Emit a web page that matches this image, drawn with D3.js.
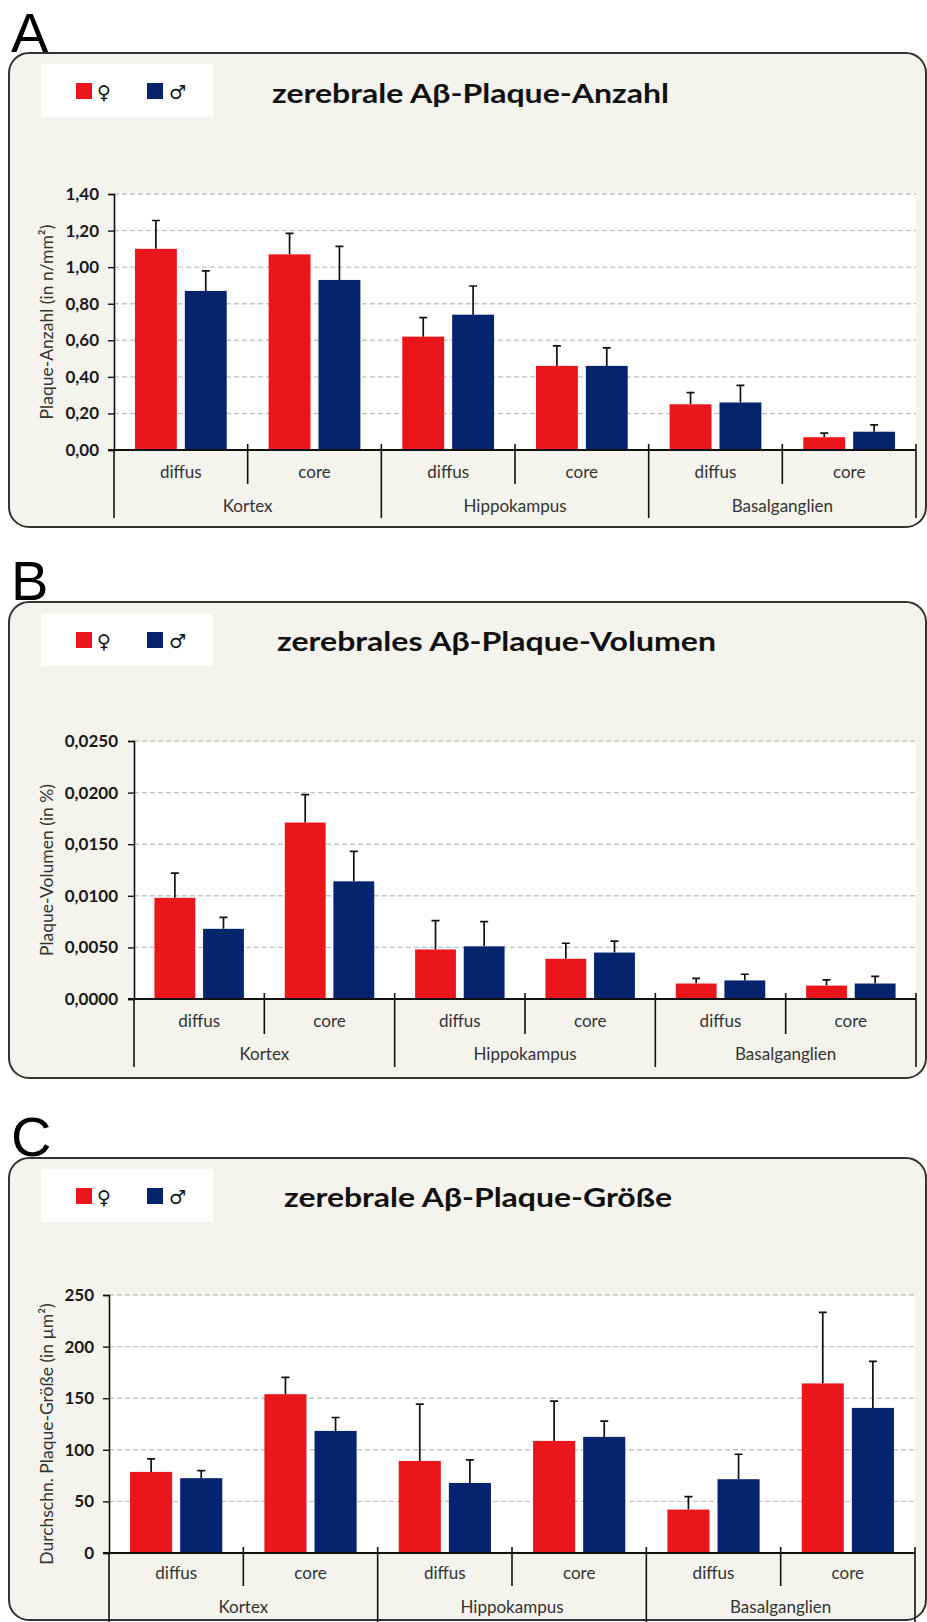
<!DOCTYPE html>
<html>
<head>
<meta charset="utf-8">
<script src="https://cdn.jsdelivr.net/npm/d3@7"></script>
<style>
  body { margin: 0; background: #fff; }
  svg { display: block; }
  text { font-family: Lato, "Open Sans", sans-serif; }
</style>
</head>
<body>
<svg id="fig" width="927" height="1622"></svg>
<script>
// categories
const regions = ['Kortex', 'Hippokampus', 'Basalganglien'];
const types = ['diffus', 'core'];
const sexes = ['♀', '♂'];
const sexColors = ['#EA161B', '#05246E'];

// A: Plaque-Anzahl (n/mm²), mean + SEM, order: K diffus, K core, H diffus, H core, B diffus, B core
const anzahlF = [1.10, 1.07, 0.62, 0.46, 0.25, 0.07];
const anzahlFErr = [0.155, 0.115, 0.104, 0.109, 0.064, 0.022];
const anzahlM = [0.87, 0.93, 0.74, 0.46, 0.26, 0.10];
const anzahlMErr = [0.11, 0.184, 0.157, 0.098, 0.093, 0.037];
const anzahlTicks = [0, 0.2, 0.4, 0.6, 0.8, 1.0, 1.2, 1.4];

// B: Plaque-Volumen (%)
const volumenF = [0.0098, 0.0171, 0.0048, 0.0039, 0.0015, 0.0013];
const volumenFErr = [0.0024, 0.0027, 0.0028, 0.0015, 0.0005, 0.00055];
const volumenM = [0.0068, 0.0114, 0.0051, 0.0045, 0.0018, 0.0015];
const volumenMErr = [0.0011, 0.0029, 0.0024, 0.0011, 0.0006, 0.0007];
const volumenTicks = [0, 0.005, 0.01, 0.015, 0.02, 0.025];

// C: Plaque-Größe (µm²)
const groesseF = [78.6, 153.9, 89.2, 108.6, 42.1, 164.3];
const groesseFErr = [12.6, 16.2, 55, 38.5, 12.6, 68.9];
const groesseM = [72.5, 118.3, 67.9, 112.5, 71.5, 140.6];
const groesseMErr = [7.4, 13, 22.3, 15.2, 24.2, 45];
const groesseTicks = [0, 50, 100, 150, 200, 250];

const de = d3.formatLocale({decimal: ',', thousands: '.', grouping: [3], currency: ['', '€']});

const panels = [
  {letter: 'A', letterY: 52, box: [9, 53, 926, 527], legend: [41, 64], title: 'zerebrale Aβ-Plaque-Anzahl', titleX: 272, titleY: 103, titleW: 397,
   x0: 114, x1: 916, yTop: 194, yBot: 450, max: 1.4, ticks: anzahlTicks, fmt: de.format('.2f'), tickX: 99,
   yTitle: 'Plaque-Anzahl (in n/mm²)', subY: 478, mainY: 512, shortEnd: 484, longEnd: 518,
   f: anzahlF, fe: anzahlFErr, m: anzahlM, me: anzahlMErr},
  {letter: 'B', letterY: 600, box: [9, 602, 926, 1078], legend: [41, 613], title: 'zerebrales Aβ-Plaque-Volumen', titleX: 277, titleY: 651, titleW: 439,
   x0: 134, x1: 916, yTop: 741, yBot: 999, max: 0.025, ticks: volumenTicks, fmt: de.format('.4f'), tickX: 118,
   yTitle: 'Plaque-Volumen (in %)', subY: 1027, mainY: 1060, shortEnd: 1034, longEnd: 1067,
   f: volumenF, fe: volumenFErr, m: volumenM, me: volumenMErr},
  {letter: 'C', letterY: 1156, box: [9, 1158, 926, 1620], legend: [41, 1169], title: 'zerebrale Aβ-Plaque-Größe', titleX: 284, titleY: 1207, titleW: 388,
   x0: 109, x1: 915, yTop: 1295, yBot: 1553, max: 250, ticks: groesseTicks, fmt: de.format('.0f'), tickX: 94,
   yTitle: 'Durchschn. Plaque-Größe (in µm²)', subY: 1579, mainY: 1613, shortEnd: 1586, longEnd: 1622,
   f: groesseF, fe: groesseFErr, m: groesseM, me: groesseMErr}
];

const svg = d3.select('#fig');

panels.forEach(function(p) {
  const g = svg.append('g');

  // panel letter
  g.append('text')
    .attr('x', 11).attr('y', p.letterY)
    .style('font-family', '"Liberation Sans", Arial, sans-serif')
    .style('font-size', '56px')
    .attr('fill', '#000')
    .text(p.letter);

  // rounded box
  g.append('rect')
    .attr('x', p.box[0]).attr('y', p.box[1])
    .attr('width', p.box[2] - p.box[0]).attr('height', p.box[3] - p.box[1])
    .attr('rx', 20).attr('ry', 20)
    .attr('fill', '#F4F3EE')
    .attr('stroke', '#333').attr('stroke-width', 2);

  // legend
  const lg = g.append('g').attr('transform', 'translate(' + p.legend[0] + ',' + p.legend[1] + ')');
  lg.append('rect').attr('width', 172).attr('height', 53).attr('fill', '#fff');
  sexes.forEach(function(s, i) {
    lg.append('rect').attr('x', 35 + i * 71).attr('y', 19).attr('width', 16).attr('height', 16).attr('fill', sexColors[i]);
    lg.append('text').attr('x', 56 + i * 72).attr('y', 35)
      .style('font-family', '"DejaVu Sans", sans-serif').style('font-size', '19px')
      .attr('fill', '#111').text(s);
  });

  // title
  g.append('text')
    .attr('x', p.titleX).attr('y', p.titleY)
    .attr('textLength', p.titleW).attr('lengthAdjust', 'spacingAndGlyphs')
    .style('font-size', '26px').style('font-weight', 'bold')
    .attr('fill', '#111')
    .text(p.title);

  // scales
  const keys = [];
  regions.forEach(r => types.forEach(t => keys.push(r + '|' + t)));
  const x0 = d3.scaleBand().domain(keys).range([p.x0, p.x1]);
  const x1 = d3.scaleBand().domain(sexes).range([0, x0.bandwidth()]).paddingInner(0.16).paddingOuter(0.42);
  const y = d3.scaleLinear().domain([0, p.max]).range([p.yBot, p.yTop]);

  // white plot area
  g.append('rect')
    .attr('x', p.x0).attr('y', p.yTop)
    .attr('width', p.x1 - p.x0).attr('height', p.yBot - p.yTop)
    .attr('fill', '#fff');

  // grid lines
  g.append('g').selectAll('line')
    .data(p.ticks.filter(t => t > 0))
    .join('line')
    .attr('x1', p.x0).attr('x2', p.x1)
    .attr('y1', d => y(d)).attr('y2', d => y(d))
    .attr('stroke', '#c4c4c4').attr('stroke-width', 1.4)
    .attr('stroke-dasharray', '5,3');

  // y axis
  const yAxis = d3.axisLeft(y).tickValues(p.ticks).tickFormat(p.fmt).tickSize(6).tickPadding(p.x0 - 6 - p.tickX);
  const ya = g.append('g').attr('transform', 'translate(' + p.x0 + ',0)').call(yAxis);
  ya.select('.domain').attr('stroke', '#111').attr('stroke-width', 1.6);
  ya.selectAll('.tick line').attr('stroke', '#111').attr('stroke-width', 1.4);
  ya.selectAll('.tick text')
    .style('font-family', 'Lato, sans-serif').style('font-size', '17px').style('font-weight', 'bold')
    .attr('fill', '#1a1a1a');

  // y title
  g.append('text')
    .attr('transform', 'translate(53,' + ((p.yTop + p.yBot) / 2 + (p.letter === 'C' ? 10 : 0)) + ') rotate(-90)')
    .attr('text-anchor', 'middle')
    .style('font-size', '17.5px')
    .attr('fill', '#333')
    .text(p.yTitle);

  // bars
  const rows = keys.map((k, i) => ({key: k, vals: [
    {sex: sexes[0], v: p.f[i], e: p.fe[i], c: sexColors[0]},
    {sex: sexes[1], v: p.m[i], e: p.me[i], c: sexColors[1]}
  ]}));

  const grp = g.append('g').selectAll('g')
    .data(rows).join('g')
    .attr('transform', d => 'translate(' + x0(d.key) + ',0)');

  // error bars (upper only)
  grp.selectAll('.err')
    .data(d => d.vals).join('path')
    .attr('class', 'err')
    .attr('d', d => {
      const cx = x1(d.sex) + x1.bandwidth() / 2;
      return 'M' + cx + ',' + y(d.v) + 'V' + y(d.v + d.e) + 'M' + (cx - 4) + ',' + y(d.v + d.e) + 'H' + (cx + 4);
    })
    .attr('stroke', '#111').attr('stroke-width', 1.7).attr('fill', 'none');

  grp.selectAll('.bar')
    .data(d => d.vals).join('rect')
    .attr('class', 'bar')
    .attr('x', d => x1(d.sex))
    .attr('width', x1.bandwidth())
    .attr('y', d => y(d.v))
    .attr('height', d => y(0) - y(d.v))
    .attr('fill', d => d.c);

  // x axis baseline
  g.append('line')
    .attr('x1', p.x0 - 6).attr('x2', p.x1)
    .attr('y1', p.yBot).attr('y2', p.yBot)
    .attr('stroke', '#111').attr('stroke-width', 2);

  // separators
  const bounds = d3.range(keys.length + 1);
  g.append('g').selectAll('line')
    .data(bounds).join('line')
    .attr('x1', k => p.x0 + k * x0.step()).attr('x2', k => p.x0 + k * x0.step())
    .attr('y1', k => k === 0 ? p.yBot : p.yBot - 6)
    .attr('y2', k => k % 2 === 0 ? p.longEnd : p.shortEnd)
    .attr('stroke', '#111').attr('stroke-width', 1.6);

  // sub labels
  g.append('g').selectAll('text')
    .data(keys).join('text')
    .attr('x', k => x0(k) + x0.bandwidth() / 2)
    .attr('y', p.subY)
    .attr('text-anchor', 'middle')
    .style('font-size', '17px')
    .attr('fill', '#333')
    .text(k => k.split('|')[1]);

  // main labels
  g.append('g').selectAll('text')
    .data(regions).join('text')
    .attr('x', (r, i) => p.x0 + (2 * i + 1) * x0.step())
    .attr('y', p.mainY)
    .attr('text-anchor', 'middle')
    .style('font-size', '17px')
    .attr('fill', '#333')
    .text(r => r);
});
</script>
</body>
</html>
